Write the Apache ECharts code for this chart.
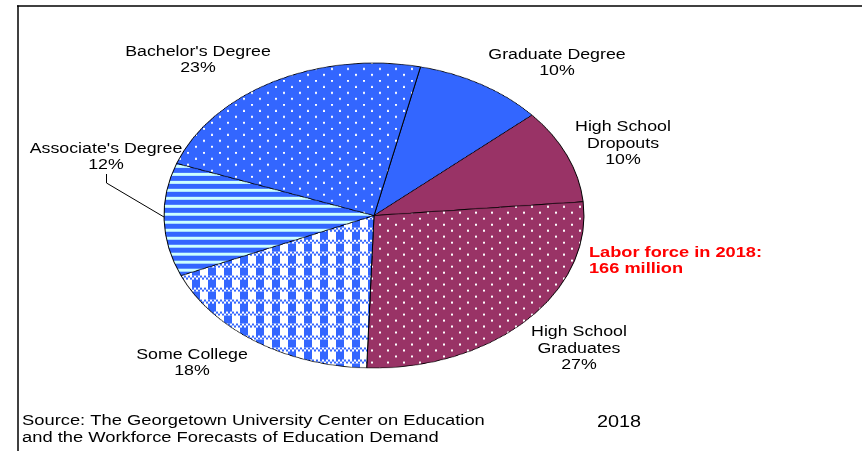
<!DOCTYPE html>
<html>
<head>
    <meta charset="utf-8">
    <title>Labor force in 2018</title>
    <style>
        html, body { margin: 0; padding: 0; background: #fff; }
        #wrap { position: relative; width: 862px; height: 451px; overflow: hidden; }
        /* pie is drawn round, then squashed into the tilted ellipse */
        #pieBox { position: absolute; left: 0; top: 0; width: 862px; height: 621px; transform: scaleY(0.7262); transform-origin: 0 0; }
        #textBox { position: absolute; left: 0; top: 0; width: 862px; height: 451px; }
    </style>
</head>
<body>
    <div id="wrap">
        <div id="pieBox"></div>
        <div id="textBox"></div>
    </div>

    <script src="https://cdn.jsdelivr.net/npm/echarts@6/dist/echarts.min.js"></script>
    <script>
        // data
        var categories = ['Graduate Degree', 'High School Dropouts', 'High School Graduates', 'Some College', "Associate's Degree", "Bachelor's Degree"];
        var values = [10, 10, 27, 18, 12, 23];
        var labelNames = ['Graduate Degree', 'High School\nDropouts', 'High School\nGraduates', 'Some College', "Associate's Degree", "Bachelor's Degree"];
        var noteLines = ['Labor force in 2018:', '166 million'];
        var sourceLines = ['Source: The Georgetown University Center on Education', 'and the Workforce Forecasts of Education Demand'];
        var yearLabel = '2018';

        var K = 0.7262; // ry / rx of the pie
        var BLUE = '#3366FF', MAROON = '#993366';

        // pattern tiles, drawn in final pixels then stretched to undo the squash
        function makeTile(w, h, draw) {
            var c = document.createElement('canvas');
            var ph = Math.round(h / K);
            c.width = w;
            c.height = ph;
            var ctx = c.getContext('2d');
            ctx.scale(1, ph / h);
            draw(ctx);
            return { image: c, repeat: 'repeat' };
        }
        function dots(bg) {
            return makeTile(16, 24, function(ctx) {
                ctx.fillStyle = bg;
                ctx.fillRect(0, 0, 16, 24);
                ctx.fillStyle = '#fff';
                [[3, 2], [11, 8], [3, 14], [11, 20]].forEach(function(p) {
                    ctx.fillRect(p[0], p[1], 2, 2);
                });
            });
        }
        function stripes() {
            return makeTile(8, 32, function(ctx) {
                ctx.fillStyle = BLUE;
                ctx.fillRect(0, 0, 8, 32);
                ctx.fillStyle = '#CCFFFF';
                for (var y = 5; y < 32; y += 8) ctx.fillRect(0, y, 8, 3);
            });
        }
        function checks() {
            return makeTile(16, 24, function(ctx) {
                ctx.fillStyle = '#fff';
                ctx.fillRect(0, 0, 16, 24);
                ctx.fillStyle = BLUE;
                ctx.fillRect(0, 4, 8, 8);
                ctx.fillRect(0, 16, 8, 8);
                [0, 12].forEach(function(y0) {
                    for (var x = 0; x < 16; x += 2) {
                        for (var y = y0; y < y0 + 4; y += 2) {
                            if (((x + y) / 2) % 2 === 0) ctx.fillRect(x, y, 2, 2);
                        }
                    }
                });
            });
        }

        var fills = [BLUE, MAROON, dots(MAROON), checks(), stripes(), dots(BLUE)];

        var pieChart = echarts.init(document.getElementById('pieBox'));
        pieChart.setOption({
            animation: false,
            series: [{
                type: 'pie',
                center: [374, 215.5 / K],
                radius: [0, 210],
                startAngle: 77.2,
                clockwise: true,
                label: { show: false },
                labelLine: { show: false },
                emphasis: { disabled: true },
                itemStyle: { borderColor: '#000', borderWidth: 1 },
                data: categories.map(function(n, i) {
                    return { name: n, value: values[i], itemStyle: { color: fills[i] } };
                })
            }]
        });

        // texts, frame and leader line on top
        var labelPos = [[557, 63], [623, 144], [579, 349], [192, 363], [106, 157], [198, 60]];
        var FONT = '"Liberation Sans", Arial, sans-serif';
        var graphics = [
            { type: 'line', shape: { x1: 17, y1: 6, x2: 862, y2: 6 }, style: { stroke: '#000', lineWidth: 1.5 } },
            { type: 'line', shape: { x1: 18, y1: 5.5, x2: 18, y2: 451 }, style: { stroke: '#000', lineWidth: 1.5 } },
            { type: 'polyline', shape: { points: [[106.5, 174], [106.5, 183], [164, 217]] }, style: { stroke: '#000', lineWidth: 1, fill: null } }
        ];
        labelNames.forEach(function(n, i) {
            graphics.push({
                type: 'text', x: labelPos[i][0], y: labelPos[i][1], scaleX: 1.27,
                style: {
                    text: n + '\n' + values[i] + '%',
                    fontSize: 14, fontFamily: FONT, fill: '#000',
                    textAlign: 'center', align: 'center', textVerticalAlign: 'middle', verticalAlign: 'middle',
                    lineHeight: 16.5
                }
            });
        });
        graphics.push({
            type: 'text', x: 589, y: 261.5, scaleX: 1.3,
            style: {
                text: noteLines.join('\n'),
                fontSize: 14, fontWeight: 'bold', fontFamily: FONT, fill: '#FF0000',
                textAlign: 'left', align: 'left', textVerticalAlign: 'middle', verticalAlign: 'middle',
                lineHeight: 16
            }
        });
        graphics.push({
            type: 'text', x: 22, y: 430, scaleX: 1.31,
            style: {
                text: sourceLines.join('\n'),
                fontSize: 14, fontFamily: FONT, fill: '#000',
                textAlign: 'left', align: 'left', textVerticalAlign: 'middle', verticalAlign: 'middle',
                lineHeight: 17
            }
        });
        graphics.push({
            type: 'text', x: 619, y: 422.5, scaleX: 1.24,
            style: {
                text: yearLabel,
                fontSize: 16, fontFamily: FONT, fill: '#000',
                textAlign: 'center', align: 'center', textVerticalAlign: 'middle', verticalAlign: 'middle'
            }
        });

        var textChart = echarts.init(document.getElementById('textBox'));
        textChart.setOption({
            animation: false,
            graphic: graphics
        });
    </script>
</body>
</html>
